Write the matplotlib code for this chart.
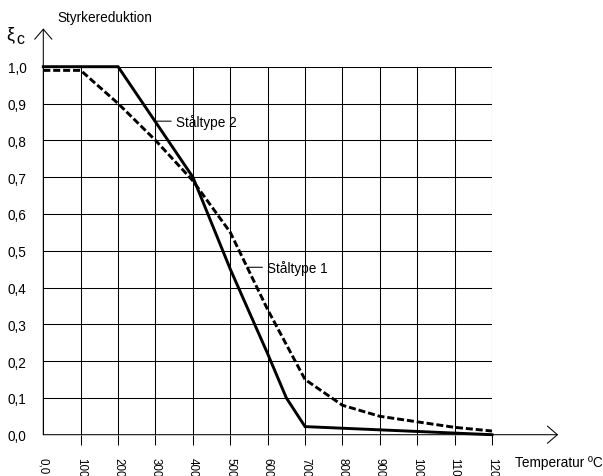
import matplotlib
matplotlib.use("Agg")
import matplotlib.pyplot as plt

plt.rcParams["font.family"] = ["Liberation Sans", "DejaVu Sans"]

# Temperature grid and tick texts
temp_ticks = [0, 100, 200, 300, 400, 500, 600, 700, 800, 900, 1000, 1100, 1200]
temp_labels = ["0,0", "100", "200", "300", "400", "500", "600", "700",
               "800", "900", "1000", "1100", "1200"]
xi_ticks = [0.0, 0.1, 0.2, 0.3, 0.4, 0.5, 0.6, 0.7, 0.8, 0.9, 1.0]
xi_labels = ["0,0", "0,1", "0,2", "0,3", "0,4", "0,5", "0,6", "0,7",
             "0,8", "0,9", "1,0"]

# Strength reduction, steel type 2 (solid)
type2_temp = [0, 200, 400, 500, 600, 650, 700, 1200]
type2_xi = [1.0, 1.0, 0.70, 0.45, 0.22, 0.10, 0.022, 0.0]

# Strength reduction, steel type 1 (dashed)
type1_temp = [0, 100, 200, 300, 400, 500, 600, 700, 800, 900, 1000, 1100, 1200]
type1_xi = [0.99, 0.99, 0.90, 0.80, 0.69, 0.55, 0.34, 0.15, 0.08, 0.05,
            0.035, 0.02, 0.01]

W, H = 603, 477
fig = plt.figure(figsize=(W / 100, H / 100), dpi=100)
ax = fig.add_axes([43.3 / W, (H - 435.7) / H, 448.7 / W, 368.0 / H])
ax.set_xlim(0, 1200)
ax.set_ylim(0, 1.0)
for s in ax.spines.values():
    s.set_visible(False)

ax.set_xticks(temp_ticks)
ax.set_xticklabels(temp_labels, rotation=270, fontsize=8.4)
ax.set_yticks(xi_ticks)
ax.set_yticklabels(xi_labels, fontsize=9.8)
ax.tick_params(axis="x", direction="out", length=7.2, width=0.75,
               color="black", pad=9)
ax.tick_params(axis="y", length=0, pad=12)
ax.xaxis.get_major_ticks()[0].tick1line.set_visible(False)
ax.grid(True, color="black", linewidth=0.75)
ax.set_axisbelow(True)

# Curves
ax.plot(type2_temp, type2_xi, color="black", linewidth=2.1,
        solid_joinstyle="miter", zorder=3, clip_on=False)
ax.plot(type1_temp, type1_xi, color="black", linewidth=2.1,
        dashes=(2.4, 1.0), dash_capstyle="butt", zorder=3, clip_on=False)

# Axes with open arrowheads
arrow = dict(arrowstyle="->,head_length=0.72,head_width=0.62",
             linewidth=0.75, color="black", shrinkA=0, shrinkB=0)
ax.annotate("", xy=(0, 1.104), xytext=(0, 0), xycoords="data",
            arrowprops=arrow, annotation_clip=False)
ax.annotate("", xy=(1377, 0), xytext=(0, 0), xycoords="data",
            arrowprops=arrow, annotation_clip=False)

# Curve labels with leader lines
leader = dict(arrowstyle="-", linewidth=0.75, color="black",
              shrinkA=1.5, shrinkB=0)
ax.annotate("Ståltype 2", xy=(300, 0.852), xytext=(355, 0.852),
            va="center", ha="left", fontsize=9.8, arrowprops=leader)
ax.annotate("Ståltype 1", xy=(545, 0.455), xytext=(599, 0.455),
            va="center", ha="left", fontsize=9.8, arrowprops=leader)

# Axis titles
fig.text(57 / W, 1 - 18 / H, "Styrkereduktion", fontsize=9.8,
         ha="left", va="center")
fig.text(6 / W, 1 - 35 / H, "ξ", fontsize=13, ha="left", va="center")
fig.text(16 / W, 1 - 39 / H, "c", fontsize=11.5, ha="left", va="center")
fig.text(515 / W, 1 - 463 / H, "Temperatur ºC", fontsize=9.8,
         ha="left", va="center")

fig.savefig("out.png", dpi=100)
